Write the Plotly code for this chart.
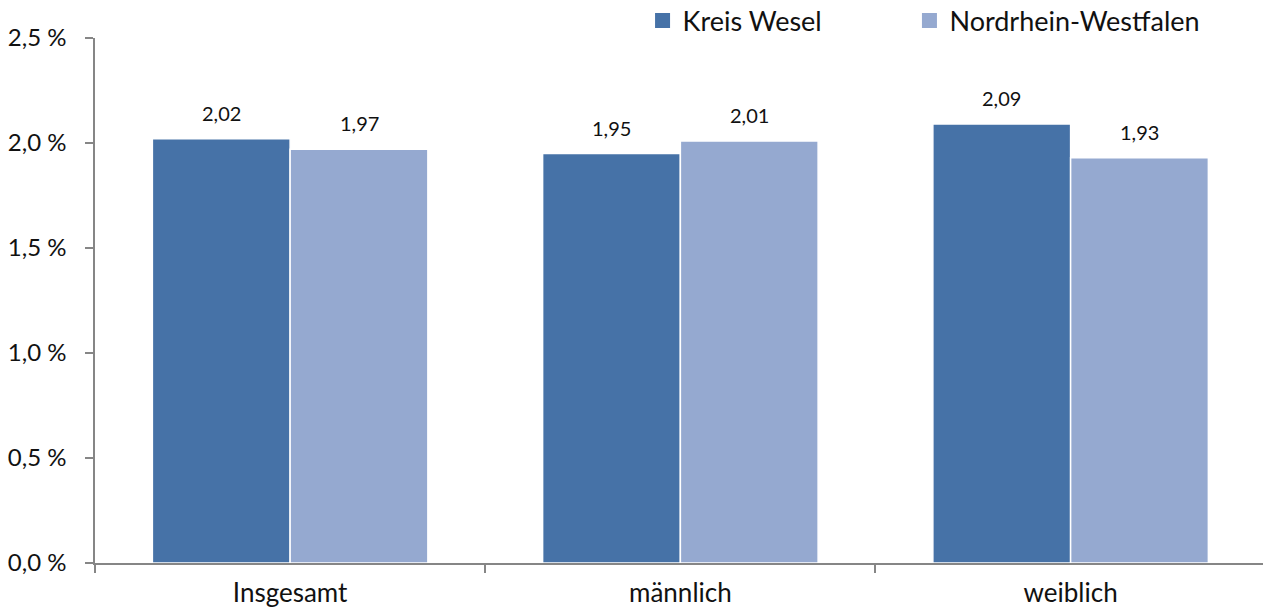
import plotly.graph_objects as go

categories = ["Insgesamt", "männlich", "weiblich"]
kreis_wesel = [2.02, 1.95, 2.09]
nrw = [1.97, 2.01, 1.93]
series_names = ["Kreis Wesel", "Nordrhein-Westfalen"]
colors = ["#4672A7", "#95A9D0"]
legend_ids = ["legend", "legend2"]

FONT = "Lato, Carlito, sans-serif"

fig = go.Figure()
for name, vals, col in zip(series_names, [kreis_wesel, nrw], colors):
    fig.add_trace(go.Bar(
        x=categories, y=vals, name=name, showlegend=False,
        marker=dict(color=col, line=dict(color="white", width=1.5)),
    ))
# legend entries with larger square symbols
for name, col, lid in zip(series_names, colors, legend_ids):
    fig.add_trace(go.Scatter(
        x=[None], y=[None], mode="markers", name=name, legend=lid,
        marker=dict(symbol="square", size=15, color=col),
    ))

# value labels above bars
bar_half_px = 69
for si, vals in enumerate([kreis_wesel, nrw]):
    shift = -bar_half_px if si == 0 else bar_half_px
    for c, v in zip(categories, vals):
        fig.add_annotation(
            x=c, y=v, text=f"{v:.2f}".replace(".", ","),
            showarrow=False, xshift=shift, yshift=26, yanchor="middle",
            font=dict(family=FONT, size=20, color="#111111"),
        )

legend_style = dict(
    orientation="h", xanchor="left", y=1.0324, yanchor="middle",
    font=dict(family=FONT, size=27, color="#111111"),
    itemwidth=30, bgcolor="rgba(0,0,0,0)",
)

fig.update_layout(
    width=1263, height=613,
    margin=dict(l=95, r=0, t=38, b=50, autoexpand=False),
    paper_bgcolor="white", plot_bgcolor="white",
    separators=",.",
    barmode="group", bargap=0.294, bargroupgap=0,
    font=dict(family=FONT, color="#111111"),
    showlegend=True,
    hovermode=False,
    legend=dict(x=0.4688, **legend_style),
    legend2=dict(x=0.6973, **legend_style),
    xaxis=dict(
        range=[-0.5, 2.493], tickson="boundaries", ticks="outside", ticklen=8,
        tickcolor="#868686", tickwidth=1.5,
        showline=True, linecolor="#868686", linewidth=1.5,
        showgrid=False, ticklabelstandoff=6,
        tickfont=dict(family=FONT, size=26, color="#111111"),
    ),
    yaxis=dict(
        range=[0, 2.5], dtick=0.5, tickformat=".1f", ticksuffix=" %",
        ticks="outside", ticklen=8, tickcolor="#868686", tickwidth=1.5,
        showline=True, linecolor="#868686", linewidth=1.5,
        showgrid=False, zeroline=False, ticklabelstandoff=14,
        tickfont=dict(family=FONT, size=24, color="#111111"),
    ),
)

fig.write_html(
    "out.html",
    config={"displayModeBar": False},
    post_script="document.body.style.margin='0';",
)
